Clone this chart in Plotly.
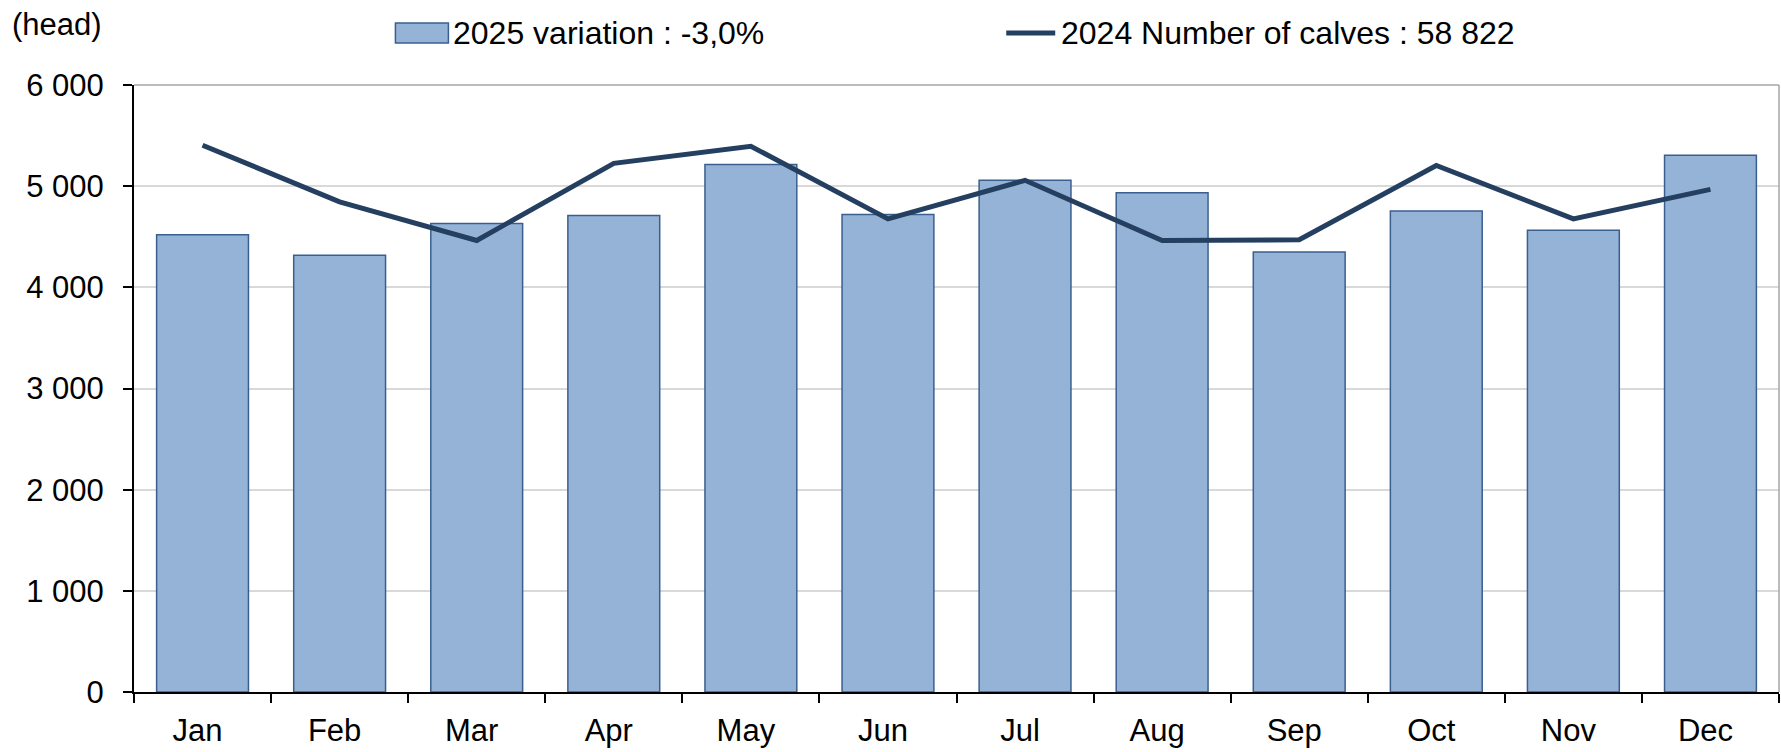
import plotly.graph_objects as go

months = ["Jan", "Feb", "Mar", "Apr", "May", "Jun", "Jul", "Aug", "Sep", "Oct", "Nov", "Dec"]
calves_2025 = [4520, 4318, 4630, 4710, 5215, 4720, 5058, 4935, 4350, 4755, 4565, 5305]
calves_2024 = [5405, 4845, 4463, 5226, 5394, 4677, 5058, 4463, 4470, 5204, 4677, 4968]
y_ticks = [0, 1000, 2000, 3000, 4000, 5000, 6000]
bar_label = "2025 variation : -3,0%"
line_label = "2024 Number of calves : 58 822"
unit_label = "(head)"

W, H = 1781, 752
L, R, T, B = 133.5, 1779, 85, 692

BAR_FILL = "#95B3D7"
BAR_EDGE = "#3A5F8F"
LINE_COL = "#243F60"
FONT = "Liberation Sans, Arial, sans-serif"

def px_x(p):
    return (p - L) / (R - L)

def px_y(p):
    return (B - p) / (B - T)

fig = go.Figure()
fig.add_trace(go.Bar(x=months, y=calves_2025, marker=dict(color=BAR_FILL, line=dict(color=BAR_EDGE, width=1.5)),
                     name=bar_label, showlegend=False))
fig.add_trace(go.Scatter(x=months, y=calves_2024, mode="lines", line=dict(color=LINE_COL, width=5),
                         name=line_label, showlegend=False))

shapes = [
    dict(type="line", xref="paper", yref="paper", x0=0, x1=1, y0=1, y1=1, line=dict(color="#A6A6A6", width=1.5)),
    dict(type="line", xref="paper", yref="paper", x0=1, x1=1, y0=0, y1=1, line=dict(color="#A6A6A6", width=1.5)),
    dict(type="rect", xref="paper", yref="paper", x0=px_x(395), x1=px_x(448), y0=px_y(43), y1=px_y(23),
         fillcolor=BAR_FILL, line=dict(color=BAR_EDGE, width=1.5)),
    dict(type="line", xref="paper", yref="paper", x0=px_x(1006), x1=px_x(1055), y0=px_y(33), y1=px_y(33),
         line=dict(color=LINE_COL, width=5)),
]
annotations = [
    dict(text=bar_label, xref="paper", yref="paper", x=px_x(451), y=px_y(33), xanchor="left", yanchor="middle",
         showarrow=False, font=dict(size=32, color="black", family=FONT)),
    dict(text=line_label, xref="paper", yref="paper", x=px_x(1059), y=px_y(33), xanchor="left", yanchor="middle",
         showarrow=False, font=dict(size=32, color="black", family=FONT)),
    dict(text=unit_label, xref="paper", yref="paper", x=px_x(9), y=px_y(25), xanchor="left", yanchor="middle",
         showarrow=False, font=dict(size=31, color="black", family=FONT)),
]

fig.update_layout(
    width=W, height=H,
    margin=dict(l=L, r=W - R, t=T, b=H - B, pad=0),
    paper_bgcolor="white", plot_bgcolor="white",
    bargap=0.33,
    separators=", ",
    font=dict(family=FONT, size=31, color="black"),
    shapes=shapes, annotations=annotations,
    showlegend=False,
)
fig.update_xaxes(showline=True, linecolor="black", linewidth=2, ticks="outside", tickson="boundaries",
                 ticklen=9, tickwidth=2, tickcolor="black", showgrid=False, ticklabelstandoff=10,
                 ticklabelshift=-5,
                 tickfont=dict(size=31, color="black", family=FONT))
fig.update_yaxes(range=[0, 6000], tickvals=y_ticks, tickformat=",d", showline=True, linecolor="black", linewidth=2,
                 ticks="outside", ticklen=9, tickwidth=2, tickcolor="black",
                 showgrid=True, gridcolor="#D9D9D9", gridwidth=1.5, zeroline=False,
                 ticklabelstandoff=13,
                 tickfont=dict(size=31, color="black", family=FONT))

fig.write_html("out.html", config={"displayModeBar": False},
               post_script="document.body.style.margin='0';document.body.style.overflow='hidden';")
